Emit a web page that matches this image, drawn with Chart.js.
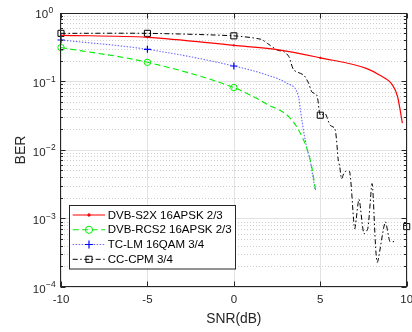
<!DOCTYPE html>
<html><head><meta charset="utf-8">
<script src="https://cdn.jsdelivr.net/npm/chart.js@4.4.1/dist/chart.umd.min.js"></script>
<style>html,body{margin:0;padding:0;background:#fff}#wrap{width:412px;height:332px}</style>
</head><body><div id="wrap"><canvas id="c" width="412" height="332"></canvas></div>
<script>
// ---- data ----
const seriesNames = ['DVB-S2X 16APSK 2/3','DVB-RCS2 16APSK 2/3','TC-LM 16QAM 3/4','CC-CPM 3/4'];
const s2xSnr = [-10,-5,0,2.51,5,7.66,8.42,9.18,9.47,9.75];
const s2xBer = [0.468,0.437,0.334,0.29,0.22,0.154,0.123,0.088,0.06,0.0245];
const rcsSnr = [-10,-5,0,1,1.94,3.27,4.04,4.42,4.51,4.76];
const rcsBer = [0.31,0.189,0.081,0.062,0.046,0.0288,0.0138,0.0071,0.0056,0.0023];
const tclmSnr = [-10,-5,0,1.94,3.09,3.75,3.85,4.13,4.42,4.7];
const tclmBer = [0.40,0.292,0.167,0.123,0.093,0.059,0.038,0.0138,0.0068,0.0026];
const cpmSnr = [-10,-5,0,1.56,1.94,2.51,2.9,3.18,3.47,4.04,4.33,4.51,4.8,5,5.28,5.56,5.85,6.04,6.13,6.23,6.42,6.7,6.99,7.24,7.52,7.75,8.0,8.29,8.76,9.03,9.27,9.6,10];
const cpmBer = [0.50,0.50,0.46,0.41,0.357,0.285,0.27,0.23,0.146,0.123,0.093,0.07,0.063,0.032,0.034,0.023,0.0205,0.0071,0.0056,0.0038,0.0048,0.0048,0.00071,0.0019,0.0006,0.00071,0.0032,0.00023,0.00089,0.00046,0.00046,null,0.00076];
const markerSnr = [-10,-5,0,5,10];
const xTicks = [-10,-5,0,5,10];
const xTickLabels = ['-10','-5','0','5','10'];
const yExps = [0,-1,-2,-3,-4];
const xTitle = 'SNR(dB)';
const yTitle = 'BER';

const pts = (xs, ys) => xs.map((x,i)=>({x:x, y:ys[i]}));
const mk = r => (ctx => (ctx.raw && markerSnr.includes(ctx.raw.x)) ? r : 0);
const FONT = '"Liberation Sans", Arial, Helvetica, sans-serif';

const datasets = [
  {label:seriesNames[0], data:pts(s2xSnr,s2xBer), borderColor:'#ff0000', borderWidth:1.2, borderDash:[],
   pointStyle:'circle', pointRadius:ctx=>(ctx.raw && [-10,-5,0,5].includes(ctx.raw.x))?0.7:0, pointBackgroundColor:'#ff0000', pointBorderColor:'#ff0000', pointBorderWidth:1,
   cubicInterpolationMode:'monotone', legendR:1.2},
  {label:seriesNames[1], data:pts(rcsSnr,rcsBer), borderColor:'#00ee00', borderWidth:1.1, borderDash:[6,3.5],
   pointStyle:'circle', pointRadius:mk(3.2), pointBackgroundColor:'rgba(0,0,0,0)', pointBorderColor:'#00ee00', pointBorderWidth:1,
   cubicInterpolationMode:'monotone', legendR:3.6},
  {label:seriesNames[2], data:pts(tclmSnr,tclmBer), borderColor:'rgba(70,70,255,0.8)', borderWidth:1.1, borderDash:[1.5,1.5],
   pointStyle:'cross', pointRadius:mk(3.5), pointBackgroundColor:'#0000ff', pointBorderColor:'#0000ff', pointBorderWidth:1.2,
   cubicInterpolationMode:'monotone', legendR:4},
  {label:seriesNames[3], data:pts(cpmSnr,cpmBer), borderColor:'#000000', borderWidth:1, borderDash:[5,2.5,1.5,2.5],
   pointStyle:'rect', pointRadius:mk(4.3), pointBackgroundColor:'rgba(0,0,0,0)', pointBorderColor:'#000000', pointBorderWidth:1,
   tension:0.25, spanGaps:false, legendR:4.3}
];
datasets.forEach(d=>{d.fill=false; d.clip=false; d.pointHoverRadius=0;});

const bgGrid = {
  id:'bgGrid',
  beforeDatasetsDraw(chart){
    const {ctx, chartArea:a, scales:{x,y}} = chart;
    ctx.save();
    ctx.fillStyle='#fff'; ctx.fillRect(a.left,a.top,a.right-a.left,a.bottom-a.top);
    ctx.lineWidth=1;
    ctx.strokeStyle='#cfcfcf'; ctx.setLineDash([1,2]);
    for(let e=-4;e<0;e++){ for(let m=2;m<=9;m++){
      const py=Math.round(y.getPixelForValue(m*Math.pow(10,e)))+0.5;
      ctx.beginPath(); ctx.moveTo(a.left,py); ctx.lineTo(a.right,py); ctx.stroke();
    }}
    ctx.setLineDash([]);
    ctx.strokeStyle='#e2e2e2';
    yExps.forEach(e=>{ const py=Math.round(y.getPixelForValue(Math.pow(10,e)))+0.5;
      ctx.beginPath(); ctx.moveTo(a.left,py); ctx.lineTo(a.right,py); ctx.stroke(); });
    xTicks.forEach(v=>{ const px=Math.round(x.getPixelForValue(v))+0.5;
      ctx.beginPath(); ctx.moveTo(px,a.top); ctx.lineTo(px,a.bottom); ctx.stroke(); });
    ctx.restore();
  }
};

const axesLegend = {
  id:'axesLegend',
  afterDatasetsDraw(chart){
    const {ctx, chartArea:a, scales:{x,y}} = chart;
    ctx.save();
    const L=Math.round(a.left)-0.5, R=Math.round(a.right)-0.5, T=Math.round(a.top)+0.5, B=Math.round(a.bottom)-0.5;
    ctx.strokeStyle='#262626'; ctx.lineWidth=1; ctx.setLineDash([]);
    ctx.strokeRect(L,T,R-L,B-T);
    ctx.beginPath();
    for(let e=-4;e<=0;e++){
      const py=Math.round(y.getPixelForValue(Math.pow(10,e)))+0.5;
      ctx.moveTo(L,py); ctx.lineTo(L+5,py); ctx.moveTo(R,py); ctx.lineTo(R-5,py);
      if(e<0){ for(let m=2;m<=9;m++){ const q=Math.round(y.getPixelForValue(m*Math.pow(10,e)))+0.5;
        ctx.moveTo(L,q); ctx.lineTo(L+2.5,q); ctx.moveTo(R,q); ctx.lineTo(R-2.5,q);} }
    }
    xTicks.forEach(v=>{ const px=Math.round(x.getPixelForValue(v))+0.5;
      ctx.moveTo(px,B); ctx.lineTo(px,B-5); ctx.moveTo(px,T); ctx.lineTo(px,T+5); });
    ctx.stroke();
    ctx.fillStyle='#262626'; ctx.textBaseline='middle';
    yExps.forEach(e=>{
      const py=y.getPixelForValue(Math.pow(10,e));
      const base='10', ex=(e<0?'\u2212':'')+Math.abs(e);
      ctx.font='11.5px '+FONT; const wb=ctx.measureText(base).width;
      ctx.font='8.5px '+FONT; const we=ctx.measureText(ex).width;
      const x0=44-(wb+we)/2;
      ctx.textAlign='left';
      ctx.font='11.5px '+FONT; ctx.fillText(base,x0,py+2.6);
      ctx.font='8.5px '+FONT; ctx.fillText(ex,x0+wb+0.5,py-2);
    });
    ctx.font='11.5px '+FONT; ctx.textAlign='center';
    xTicks.forEach((v,i)=>{ ctx.fillText(xTickLabels[i], x.getPixelForValue(v), 300); });
    ctx.font='13.8px '+FONT; ctx.fillText(xTitle, (a.left+a.right)/2, 319.5);
    ctx.save(); ctx.translate(21,150); ctx.rotate(-Math.PI/2); ctx.font='14px '+FONT; ctx.fillText(yTitle,0,0); ctx.restore();
    const lx=69.5, ly=205.5, lw=166, lh=63.5;
    ctx.fillStyle='#fff'; ctx.fillRect(lx,ly,lw,lh);
    ctx.strokeStyle='#262626'; ctx.strokeRect(lx,ly,lw,lh);
    const rows=[215,229.8,244.5,259.3];
    chart.data.datasets.forEach((d,i)=>{
      const ry=rows[i];
      ctx.save();
      ctx.strokeStyle=d.borderColor; ctx.lineWidth=d.borderWidth; ctx.setLineDash(d.borderDash||[]);
      ctx.beginPath(); ctx.moveTo(72.7,ry); ctx.lineTo(105,ry); ctx.stroke();
      ctx.setLineDash([]);
      ctx.lineWidth=d.pointBorderWidth; ctx.strokeStyle=d.pointBorderColor; ctx.fillStyle=d.pointBackgroundColor;
      Chart.helpers.drawPoint(ctx,{pointStyle:d.pointStyle, radius:d.legendR, rotation:0, borderWidth:d.pointBorderWidth}, 89, ry);
      ctx.restore();
      ctx.fillStyle='#000'; ctx.font='11.5px '+FONT; ctx.textAlign='left'; ctx.textBaseline='middle';
      ctx.fillText(d.label,107.7,ry+0.5);
    });
    ctx.restore();
  }
};

new Chart(document.getElementById('c'), {
  type:'line',
  data:{datasets},
  options:{
    responsive:false, animation:false, devicePixelRatio:1,
    layout:{padding:{left:61, top:12.7, right:1.5, bottom:45}},
    scales:{
      x:{type:'linear', min:-10, max:10, display:false},
      y:{type:'logarithmic', min:1e-4, max:1, display:false}
    },
    plugins:{legend:{display:false}, tooltip:{enabled:false}},
    elements:{line:{borderCapStyle:'butt'}}
  },
  plugins:[bgGrid, axesLegend]
});
</script></body></html>
